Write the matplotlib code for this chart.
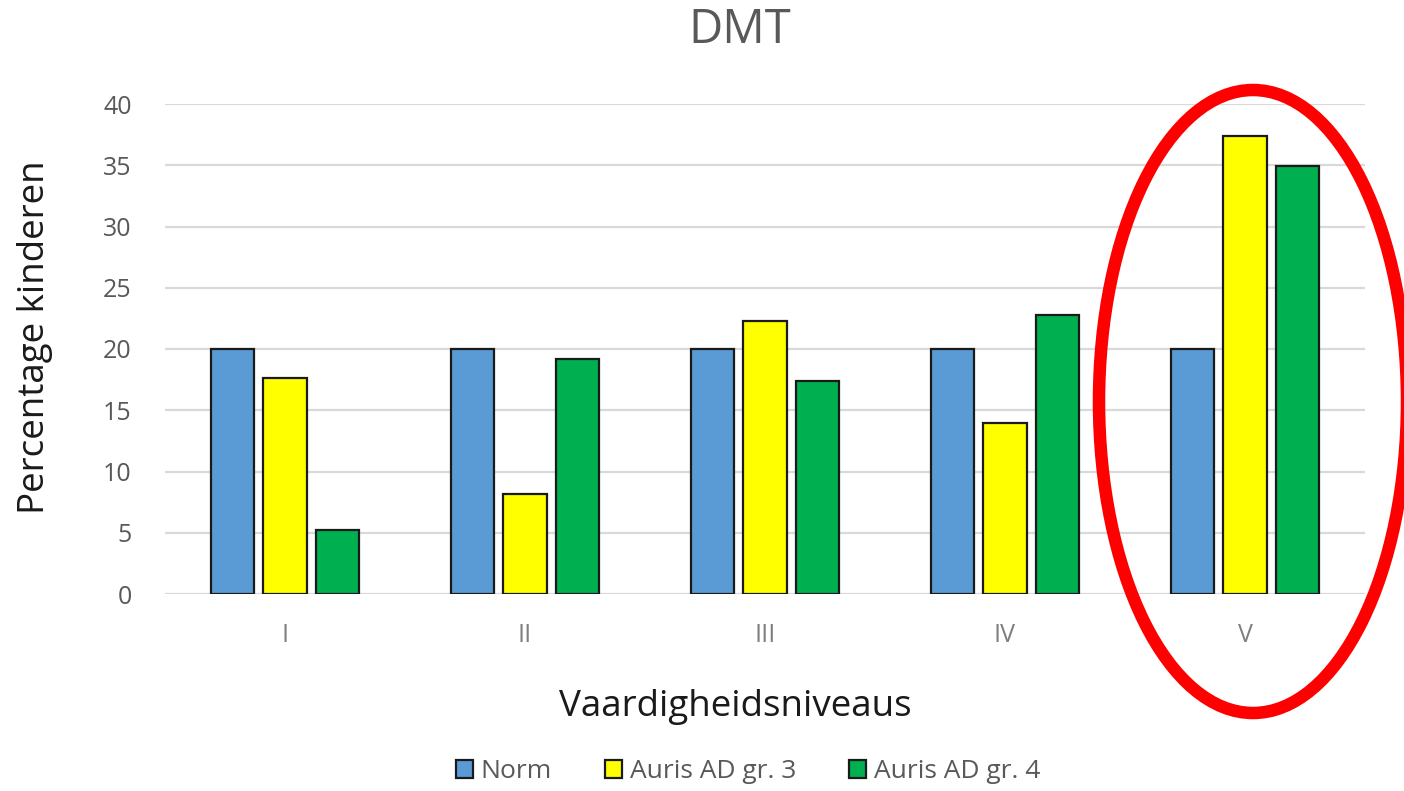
import matplotlib
matplotlib.use("Agg")
import matplotlib.pyplot as plt
import numpy as np
from matplotlib.patches import Ellipse

categories = ["I", "II", "III", "IV", "V"]
norm = [20, 20, 20, 20, 20]
auris_gr3 = [17.6, 8.2, 22.3, 14.0, 37.4]
auris_gr4 = [5.2, 19.2, 17.4, 22.8, 34.9]
series_names = ["Norm", "Auris AD gr. 3", "Auris AD gr. 4"]
colors = ["#5B9BD5", "#FFFF00", "#00B050"]

plt.rcParams['font.family'] = ['Open Sans', 'DejaVu Sans']

fig = plt.figure(figsize=(14.04, 7.91), dpi=100)
ax = fig.add_axes([165/1404, 1-594/791, 1200/1404, 490/791])

x = np.arange(len(categories))
width = 0.18
step = 0.22
for i, (vals, name, c) in enumerate(zip([norm, auris_gr3, auris_gr4], series_names, colors)):
    ax.bar(x + (i-1)*step, vals, width, color=c, edgecolor="#1a1a1a", linewidth=1.6,
           label=name, zorder=3)

ax.set_xlim(-0.5, 4.5)
ax.set_ylim(0, 40)
ax.set_yticks(range(0, 41, 5))
ax.set_xticks(x)
ax.set_xticklabels(categories)
ax.yaxis.grid(True, color="#d9d9d9", linewidth=1.6, zorder=0)
ax.set_axisbelow(True)
for s in ax.spines.values():
    s.set_visible(False)
ax.tick_params(axis='both', length=0, colors="#7f7f7f", labelsize=18)
ax.tick_params(axis='y', pad=24)
ax.tick_params(axis='x', pad=21)
for lab in ax.get_yticklabels():
    lab.set_color("#595959")

# axis titles and chart title (placed in figure coordinates like the original)
fig.text(35/1404, 1-337/791, "Percentage kinderen", rotation=90, fontsize=26.5,
         color="#1a1a1a", ha="center", va="center")
fig.text(735/1404, 1-707/791, "Vaardigheidsniveaus", fontsize=26.5,
         color="#1a1a1a", ha="center", va="center")
fig.text(740/1404, 1-30/791, "DMT", fontsize=34, color="#595959",
         ha="center", va="center")

leg = fig.legend(loc="center", bbox_to_anchor=(748/1404, 1-772/791), ncol=3, frameon=False,
                 fontsize=19, handlelength=0.65, handleheight=0.65, handletextpad=0.3,
                 columnspacing=2.0, labelcolor="#595959")

ell = Ellipse((1253/1404, 1-401.5/791), 2*154/1404, 623/791, transform=fig.transFigure,
              fill=False, edgecolor="#FF0000", linewidth=9, zorder=10)
fig.patches.append(ell)

fig.savefig("out.png", dpi=100)
